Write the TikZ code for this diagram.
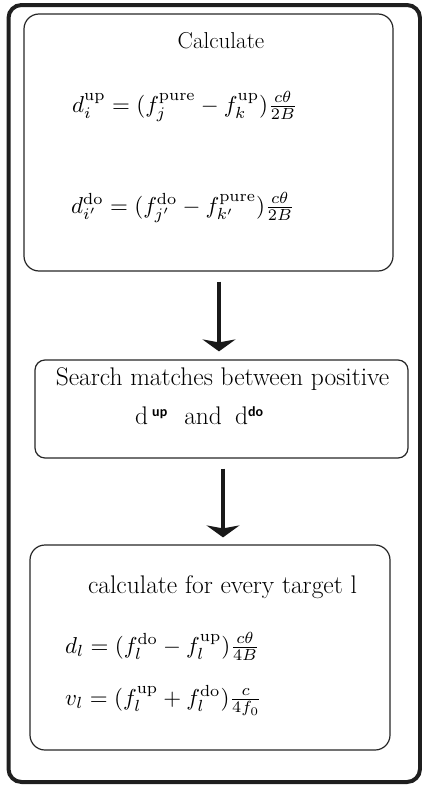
\RequirePackage{fix-cm}
\documentclass[tikz,border=0pt]{standalone}
\usepackage{amsmath}
\usepackage{graphicx}
\usepackage{fontspec}
\newfontfamily\supf{Carlito}
\usetikzlibrary{arrows.meta}
\newcommand\mytxt{\fontsize{25.5}{30}\selectfont}
\newcommand\mytitle{\fontsize{23}{27}\selectfont}
\newcommand\mymath{\fontsize{10}{12}\selectfont}
\newcommand\bigeq[1]{\scalebox{2.3}{$#1$}}
\newcommand\supword[1]{\raisebox{8pt}{\fontsize{14}{16}\selectfont\supf\bfseries #1}}
\tikzset{
  box/.style={draw=black!85, line width=1.2pt, rounded corners=15pt, inner sep=0pt},
  frame/.style={draw=black!88, line width=4pt, rounded corners=13pt, inner sep=0pt},
  flow/.style={draw=black!90, line width=4pt, -{Stealth[width=33pt,length=12pt,inset=3pt]}},
  lbl/.style={inner sep=0pt, anchor=base, font=\mytxt},
  eq/.style={inner sep=0pt, anchor=base west, font=\mymath},
}
\begin{document}
\begin{tikzpicture}[x=1pt,y=-1pt]
\useasboundingbox (0,0) rectangle (422,787);
\node[frame, minimum width=411.5pt, minimum height=777pt] (outer) at (214.25,393.5) {};
\node[box, minimum width=369pt, minimum height=257pt] (b1) at (208.5,142.5) {};
\node[box, rounded corners=10pt, minimum width=373pt, minimum height=98pt] (b2) at (221.5,409) {};
\node[box, minimum width=360pt, minimum height=205pt] (b3) at (210,647.5) {};
% box 1
\node[lbl, font=\mytitle] (t1) at (221,48) {Calculate};
\node[eq] (e1) at (72,112) {\bigeq{d^{\mathrm{up}}_{i} = (f^{\mathrm{pure}}_{j} - f^{\mathrm{up}}_{k})\frac{c\theta}{2B}}};
\node[eq] (e2) at (71,213) {\bigeq{d^{\mathrm{do}}_{i'} = (f^{\mathrm{do}}_{j'} - f^{\mathrm{pure}}_{k'})\frac{c\theta}{2B}}};
% box 2
\node[lbl] (s1) at (222.5,385) {Search matches between positive};
\node[lbl, anchor=base west] (s2) at (135,424) {d\hspace{4pt}\supword{up}\hspace{17pt}and\hspace{13pt}d\supword{do}};
% box 3
\node[lbl] (t3) at (222.5,593) {calculate for every target l};
\node[eq] (e3) at (65,653) {\bigeq{d_l = (f^{\mathrm{do}}_l - f^{\mathrm{up}}_l)\frac{c\theta}{4B}}};
\node[eq] (e4) at (65,705) {\bigeq{v_l = (f^{\mathrm{up}}_l + f^{\mathrm{do}}_l)\frac{c}{4f_0}}};
% arrows
\draw[flow] ([xshift=10.5pt,yshift=-10pt]b1.south) -- ([xshift=-2.5pt,yshift=8pt]b2.north);
\draw[flow] ([xshift=1.5pt,yshift=-10pt]b2.south) -- ([xshift=13pt,yshift=7pt]b3.north);
\end{tikzpicture}
\end{document}
